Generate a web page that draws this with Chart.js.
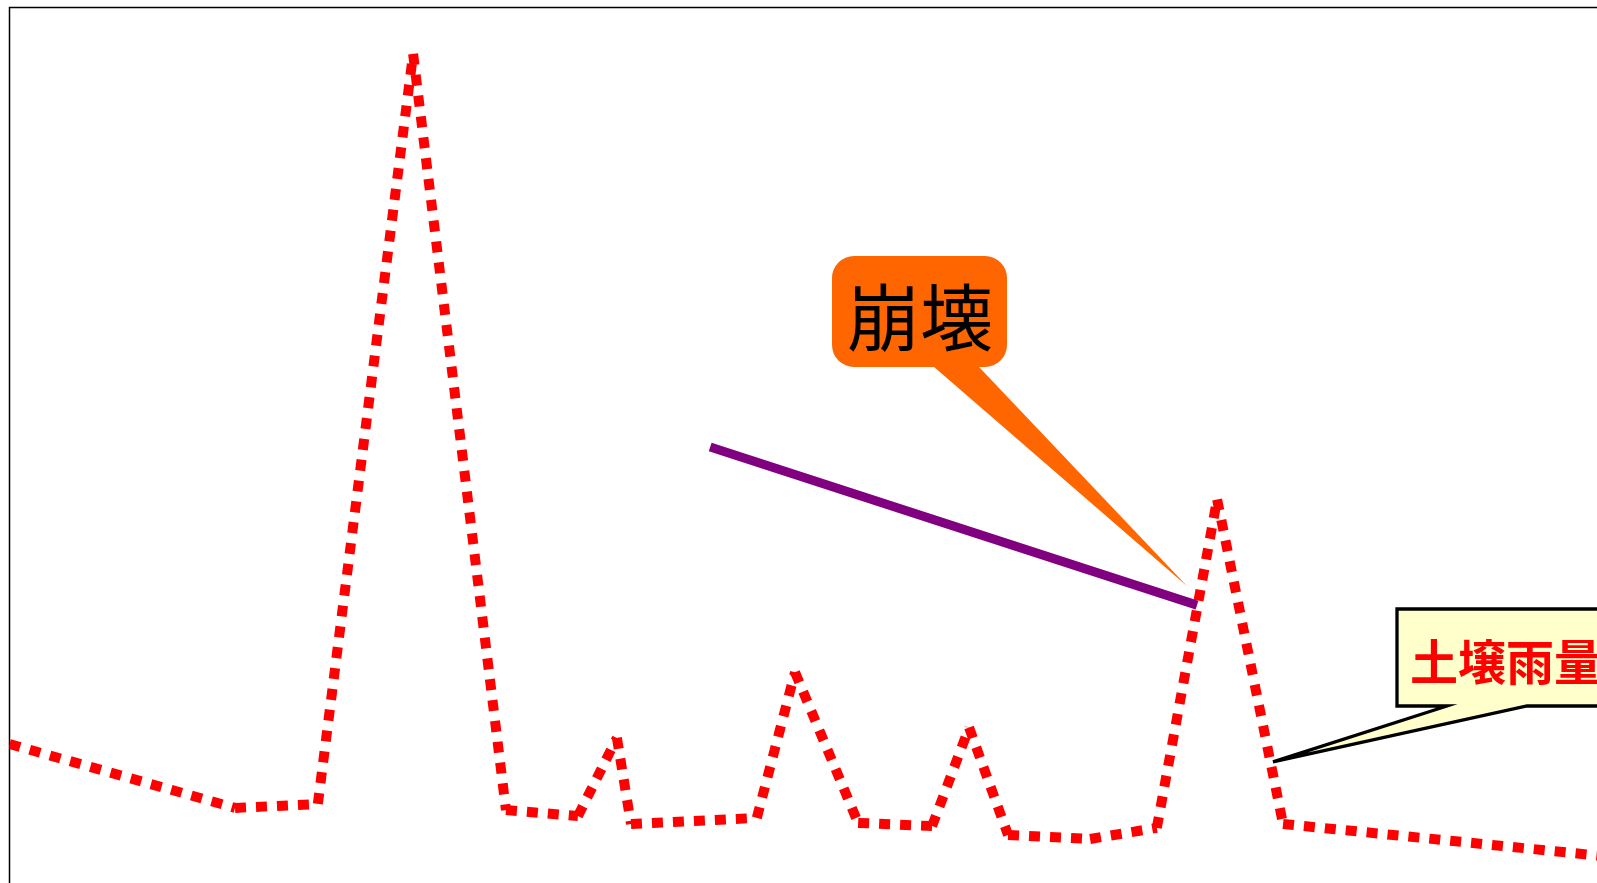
<!DOCTYPE html>
<html>
<head>
<meta charset="utf-8">
<script src="https://cdn.jsdelivr.net/npm/chart.js@4/dist/chart.umd.min.js"></script>
<style>
  html, body { margin: 0; padding: 0; overflow: hidden; background: #fff; }
  canvas { display: block; }
</style>
</head>
<body>
<canvas id="c" width="1640" height="920" style="width:1640px;height:920px"></canvas>
<script>
// Elapsed time (hours) and soil rainfall index (mm)
const hours    = [0, 5.61, 7.67, 10.04, 12.35, 14.14, 15.11, 15.46, 18.59, 19.54, 21.11, 22.95, 23.87, 24.84, 26.88, 28.54, 30.04, 31.68, 40];
const soilRain = [43.7, 25.8, 26.9, 237.0, 25.2, 23.5, 45.4, 21.3, 23.0, 63.8, 21.6, 20.7, 48.3, 18.2, 17.1, 20.2, 112.2, 21.3, 11.9];

// Collapse criterion line
const collapseHours = [17.43, 29.54];
const collapseLevel = [126.9, 82.6];

// Callout labels and the points they refer to
const calloutTexts = ['崩壊', '土壌雨量'];
const calloutHours = [29.29, 31.43];
const calloutLevel = [87.95, 38.7];

const toPoints = (xs, ys) => xs.map((x, i) => ({ x, y: ys[i] }));

const framePlugin = {
  id: 'frame',
  beforeDatasetsDraw(chart) {
    const { ctx, chartArea: a } = chart;
    ctx.save();
    ctx.strokeStyle = '#000';
    ctx.lineWidth = 1.5;
    ctx.strokeRect(a.left, a.top, a.right - a.left, a.bottom - a.top);
    ctx.restore();
  }
};

const calloutPlugin = {
  id: 'callouts',
  afterDraw(chart) {
    const { ctx, scales } = chart;
    const tip = i => [scales.x.getPixelForValue(calloutHours[i]), scales.y.getPixelForValue(calloutLevel[i])];

    // Orange rounded callout
    ctx.save();
    let [tx, ty] = tip(0);
    ctx.fillStyle = '#FF6600';
    ctx.beginPath();
    ctx.roundRect(832, 256, 175, 111, 22);
    ctx.fill();
    ctx.beginPath();
    ctx.moveTo(926, 360);
    ctx.lineTo(972.4, 360);
    ctx.lineTo(tx, ty);
    ctx.closePath();
    ctx.fill();
    ctx.fillStyle = '#000';
    ctx.font = '400 73px "Noto Sans CJK JP"';
    ctx.textAlign = 'center';
    ctx.textBaseline = 'alphabetic';
    ctx.fillText(calloutTexts[0], 920, 345);
    ctx.restore();

    // Yellow rectangular callout
    ctx.save();
    [tx, ty] = tip(1);
    ctx.beginPath();
    ctx.moveTo(1397, 609);
    ctx.lineTo(1700, 609);
    ctx.lineTo(1700, 706);
    ctx.lineTo(1527, 706);
    ctx.lineTo(tx, ty);
    ctx.lineTo(1447, 706);
    ctx.lineTo(1397, 706);
    ctx.closePath();
    ctx.fillStyle = '#FFFFCC';
    ctx.fill();
    ctx.strokeStyle = '#000';
    ctx.lineWidth = 3.3;
    ctx.lineJoin = 'miter';
    ctx.stroke();
    ctx.fillStyle = '#FF0000';
    ctx.font = '700 48px "Noto Sans CJK JP"';
    ctx.textAlign = 'left';
    ctx.textBaseline = 'alphabetic';
    ctx.fillText(calloutTexts[1], 1410, 680);
    ctx.restore();
  }
};

new Chart(document.getElementById('c'), {
  type: 'line',
  data: {
    datasets: [
      {
        label: '土壌雨量指数',
        data: toPoints(hours, soilRain),
        borderColor: '#FF0000',
        borderWidth: 10,
        borderDash: [11, 10],
        borderDashOffset: 0,
        borderCapStyle: 'butt',
        borderJoinStyle: 'round',
        // each section starts its own dot pattern at its first point
        segment: { borderDashOffset: ctx => ctx.p0DataIndex * 0.001 },
        pointRadius: 0,
        tension: 0,
        fill: false
      },
      {
        label: '崩壊基準線',
        data: toPoints(collapseHours, collapseLevel),
        borderColor: '#800080',
        borderWidth: 9,
        borderCapStyle: 'butt',
        pointRadius: 0,
        tension: 0,
        fill: false
      }
    ]
  },
  options: {
    responsive: false,
    animation: false,
    devicePixelRatio: 1,
    layout: { padding: { left: 9.5, top: 7.5, right: 22.5, bottom: 20 } },
    plugins: { legend: { display: false }, tooltip: { enabled: false } },
    scales: {
      x: { type: 'linear', min: 0, max: 40, display: false },
      y: { type: 'linear', min: 0, max: 250, display: false }
    }
  },
  plugins: [framePlugin, calloutPlugin]
});
</script>
</body>
</html>
